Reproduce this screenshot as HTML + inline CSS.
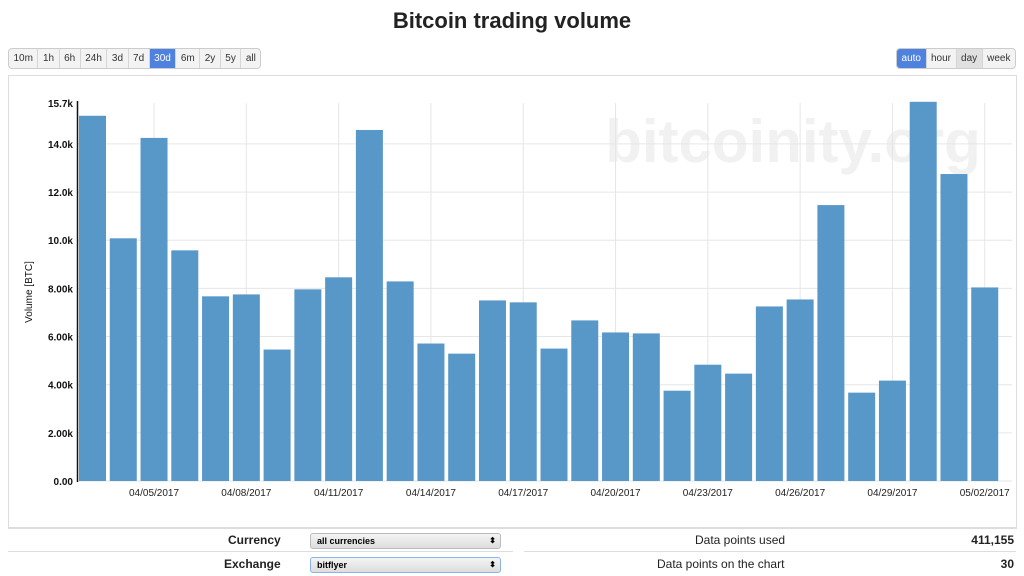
<!DOCTYPE html>
<html><head><meta charset="utf-8">
<style>
body{margin:0;width:1024px;height:576px;background:#fff;font-family:"Liberation Sans",sans-serif;position:relative;overflow:hidden}
.title{position:absolute;top:8px;left:0;width:1024px;text-align:center;font-size:22px;font-weight:bold;color:#222}
.btns{position:absolute;top:48px;display:flex;border:1px solid #ccc;border-radius:4px;overflow:hidden;background:#f3f3f3}
.btns div{font-size:10px;padding:4px 4.5px;border-right:1px solid #d6d6d6;color:#333;line-height:11px}
.btns div:last-child{border-right:none}
.btns .on{background:#4f82de;color:#fff}
.btns .dk{background:#e0e0e0}
.panel{position:absolute;left:8px;top:75px;width:1007px;height:451px;border:1px solid #ddd;border-bottom:2px solid #ddd}
.lab{position:absolute;font-size:12px;color:#222}
.sel{position:absolute;width:183px;height:14px;border:1px solid #bbb;border-radius:3px;background:linear-gradient(#f4f4f4,#ddd);font-size:9px;font-weight:bold;line-height:14px;padding-left:6px;box-sizing:content-box}
.sel span{position:absolute;right:4px;top:0;font-size:8px}
</style></head><body>
<div class="title">Bitcoin trading volume</div>
<div class="btns" style="left:8px">
<div>10m</div><div>1h</div><div>6h</div><div>24h</div><div>3d</div><div>7d</div><div class="on">30d</div><div>6m</div><div>2y</div><div>5y</div><div>all</div>
</div>
<div class="btns" style="right:8px">
<div class="on">auto</div><div>hour</div><div class="dk">day</div><div>week</div>
</div>
<div class="panel"></div>
<svg id="chart" width="1024" height="576" style="position:absolute;left:0;top:0"></svg>

<div style="position:absolute;left:8px;top:551px;width:505px;border-top:1px solid #ddd"></div>
<div style="position:absolute;left:524px;top:551px;width:492px;border-top:1px solid #ddd"></div>
<div class="lab" style="left:228px;top:533px;font-weight:bold">Currency</div>
<div class="sel" style="left:310px;top:533px">all currencies<span>⬍</span></div>
<div class="lab" style="left:224px;top:557px;font-weight:bold">Exchange</div>
<div class="sel" style="left:310px;top:557px;border-color:#8ab4e8">bitflyer<span>⬍</span></div>
<div class="lab" style="left:695px;top:533px">Data points used</div>
<div class="lab" style="right:10px;top:533px;font-weight:bold">411,155</div>
<div class="lab" style="left:657px;top:557px">Data points on the chart</div>
<div class="lab" style="right:10px;top:557px;font-weight:bold">30</div>

<script>
const dates=["04/03/2017","04/04/2017","04/05/2017","04/06/2017","04/07/2017","04/08/2017","04/09/2017","04/10/2017","04/11/2017","04/12/2017","04/13/2017","04/14/2017","04/15/2017","04/16/2017","04/17/2017","04/18/2017","04/19/2017","04/20/2017","04/21/2017","04/22/2017","04/23/2017","04/24/2017","04/25/2017","04/26/2017","04/27/2017","04/28/2017","04/29/2017","04/30/2017","05/01/2017","05/02/2017"];
const volumes=[15170,10080,14250,9580,7670,7750,5460,7960,8460,14580,8290,5710,5290,7500,7420,5500,6670,6170,6130,3750,4830,4460,7250,7540,11460,3670,4170,15750,12750,8040];
const yTicks=[0,2000,4000,6000,8000,10000,12000,14000];
const yTickLabels=["0.00","2.00k","4.00k","6.00k","8.00k","10.0k","12.0k","14.0k"];
const yMax=15700;
const NS="http://www.w3.org/2000/svg";
const svg=document.getElementById('chart');
const x0=79,x1=1002,y0=481,yTop=103;
const step=(x1-x0)/dates.length,bw=27;
const ys=v=>y0-(v/yMax)*(y0-yTop);
const xs=i=>x0+i*step;
function mk(t,a){const e=document.createElementNS(NS,t);for(const k in a)e.setAttribute(k,a[k]);svg.appendChild(e);return e;}
const wm=mk('text',{x:793,y:162,'text-anchor':'middle','font-size':60,'font-weight':'bold',fill:'#f1f1f1','font-family':'Liberation Sans, sans-serif'});
wm.textContent='bitcoinity.org';


yTicks.forEach((v,k)=>{
 const g=mk('line',{x1:x0-2,x2:x1+10,y1:ys(v),y2:ys(v),stroke:'#e6e6e6'});
 
 
 const t=mk('text',{x:73,y:ys(v)+4,'text-anchor':'end','font-size':10,'font-weight':'bold',fill:'#111'});
 t.textContent=yTickLabels[k];
 
 
});
const maxLbl=mk('text',{x:73,y:yTop+4,'text-anchor':'end','font-size':10,'font-weight':'bold',fill:'#111'});
maxLbl.textContent='15.7k';


dates.forEach((d,i)=>{
 if(i%3!==2)return;
 const cx=xs(i)+bw/2;
 const g=mk('line',{x1:cx,x2:cx,y1:yTop,y2:y0,stroke:'#e6e6e6'});
 
 
 const t=mk('text',{x:cx,y:496,'text-anchor':'middle','font-size':10,fill:'#222'});
 t.textContent=d;
 
 
});
volumes.forEach((v,i)=>{
 const r=mk('rect',{x:xs(i),y:ys(v),width:bw,height:y0-ys(v),fill:'#5898c8'});
 
 
});
const ax=mk('line',{x1:77.5,x2:77.5,y1:yTop-2,y2:y0+1,stroke:'#111','stroke-width':1.5});


const yt=mk('text',{x:0,y:0,'text-anchor':'middle','font-size':10,fill:'#111',transform:'translate(32,292) rotate(-90)'});
yt.textContent='Volume [BTC]';


</script>
</body></html>
